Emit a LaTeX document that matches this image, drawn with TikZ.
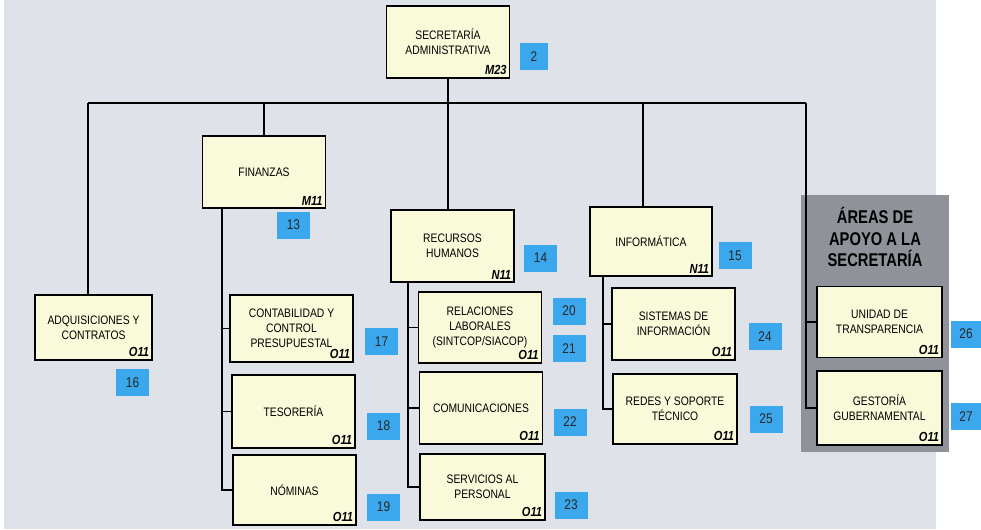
\documentclass[tikz,border=0pt]{standalone}
\usepackage{fontspec}
\setmainfont{Liberation Sans}[FakeStretch=0.84]
\newfontfamily\headfont{Liberation Sans}[FakeStretch=0.8]
\usepackage{xcolor}
\usetikzlibrary{positioning}
\definecolor{paper}{HTML}{DFE2E8}
\definecolor{boxfill}{HTML}{F8FADA}
\definecolor{tagblue}{HTML}{3BA7EC}
\definecolor{panelgray}{HTML}{8F9298}
\tikzset{
  unit/.style={draw=black, line width=1.1pt, fill=boxfill, align=center, inner sep=0pt,
    minimum width=2.46cm, font=\fontsize{7}{8.5}\selectfont},
  code/.style={anchor=south east, inner sep=2pt, font=\fontsize{7.5}{8}\selectfont\bfseries\itshape},
  tag/.style={fill=tagblue, minimum width=0.66cm, minimum height=0.54cm, inner sep=0pt,
    font=\fontsize{8}{9}\selectfont, text=black!85},
  link/.style={line width=0.8pt}
}
\begin{document}
\begin{tikzpicture}[x=0.02cm,y=-0.02cm]
\useasboundingbox (0,0) rectangle (981,529);
\fill[white] (0,0) rectangle (981,529);
\fill[paper] (4,0) rectangle (936,529);
% grey panel on the right
\fill[panelgray] (801,195) rectangle (949,452);
\node[font=\headfont\fontsize{10.5}{12.2}\selectfont\bfseries, align=center] (areas) at (875,237)
  {ÁREAS DE\\APOYO A LA\\SECRETARÍA};

% top level
\node[unit, minimum height=1.44cm] (sec) at (448,42) {SECRETARÍA\\ADMINISTRATIVA};
\node[code] at (sec.south east) {M23};
\node[tag, minimum width=0.56cm] (t2) at (534,56.5) {2};

% second level
\node[unit, minimum height=1.44cm] (fin) at (264,172) {FINANZAS};
\node[code] at (fin.south east) {M11};
\node[tag] (t13) at (293.5,225) {13};
\node[unit, minimum width=2.34cm, minimum height=1.3cm] (adq) at (93.5,327.5) {ADQUISICIONES Y\\CONTRATOS};
\node[code] at (adq.south east) {O11};
\node[tag] (t16) at (132.5,382.5) {16};
\node[unit, minimum height=1.44cm] (rh) at (452.5,246) {RECURSOS\\HUMANOS};
\node[code] at (rh.south east) {N11};
\node[tag] (t14) at (540.5,258) {14};
\node[unit, minimum width=2.44cm, minimum height=1.38cm] (inf) at (651,241.5) {INFORMÁTICA};
\node[code] at (inf.south east) {N11};
\node[tag] (t15) at (735,255.5) {15};

% finanzas
\node[unit, minimum height=1.34cm] (cont) at (291.5,328.5) {CONTABILIDAD Y\\CONTROL\\PRESUPUESTAL};
\node[code] at (cont.south east) {O11};
\node[tag] (t17) at (381.5,341.5) {17};
\node[unit, minimum height=1.46cm] (tes) at (293.5,411.5) {TESORERÍA};
\node[code] at (tes.south east) {O11};
\node[tag] (t18) at (383.5,426) {18};
\node[unit, minimum height=1.4cm] (nom) at (294.5,490) {NÓMINAS};
\node[code] at (nom.south east) {O11};
\node[tag] (t19) at (383.5,507) {19};

% recursos humanos
\node[unit, minimum height=1.42cm] (rel) at (480,327.5) {RELACIONES\\LABORALES\\(SINTCOP/SIACOP)};
\node[code] at (rel.south east) {O11};
\node[tag] (t20) at (569,311) {20};
\node[tag] (t21) at (569,348.5) {21};
\node[unit, minimum height=1.44cm] (com) at (481,408) {COMUNICACIONES};
\node[code] at (com.south east) {O11};
\node[tag] (t22) at (570,422) {22};
\node[unit, minimum width=2.5cm, minimum height=1.32cm] (ser) at (482.5,487) {SERVICIOS AL\\PERSONAL};
\node[code] at (ser.south east) {O11};
\node[tag] (t23) at (571,505) {23};

% informatica
\node[unit, minimum height=1.44cm] (sis) at (673.5,324) {SISTEMAS DE\\INFORMACIÓN};
\node[code] at (sis.south east) {O11};
\node[tag] (t24) at (765,336.5) {24};
\node[unit, minimum width=2.48cm, minimum height=1.4cm] (red) at (675,409) {REDES Y SOPORTE\\TÉCNICO};
\node[code] at (red.south east) {O11};
\node[tag] (t25) at (766,419) {25};

% areas de apoyo
\node[unit, minimum width=2.5cm, minimum height=1.42cm] (uni) at (879.5,322) {UNIDAD DE\\TRANSPARENCIA};
\node[code] at (uni.south east) {O11};
\node[tag, minimum width=0.6cm] (t26) at (966,334) {26};
\node[unit, minimum width=2.5cm, minimum height=1.48cm] (ges) at (879.5,408) {GESTORÍA\\GUBERNAMENTAL};
\node[code] at (ges.south east) {O11};
\node[tag, minimum width=0.6cm] (t27) at (966,416.5) {27};

% connectors
\coordinate (barL) at (88,103);
\coordinate (barR) at (806,103);
\coordinate (dInf) at (643,103);
\coordinate (finbus) at (222,208);
\coordinate (rhbus) at (408,282);
\coordinate (infbus) at (603,276);
\draw[link] (sec.south) -- (sec.south |- barL);
\draw[link] (barL) -- (barR);
\draw[link] (barL) -- (barL |- adq.north);
\draw[link] (fin.north) -- (fin.north |- barL);
\draw[link] (sec.south |- barL) -- (sec.south |- rh.north);
\draw[link] (dInf) -- (dInf |- inf.north);
\draw[link] (barR) |- (uni.west);
\draw[link] (barR) |- (ges.west);
\draw[link] (finbus) |- (cont.west);
\draw[link] (finbus) |- (tes.west);
\draw[link] (finbus) |- (nom.west);
\draw[link] (rhbus) |- (rel.west);
\draw[link] (rhbus) |- (com.west);
\draw[link] (rhbus) |- (ser.west);
\draw[link] (infbus) |- (sis.west);
\draw[link] (infbus) |- (red.west);
\end{tikzpicture}
\end{document}
